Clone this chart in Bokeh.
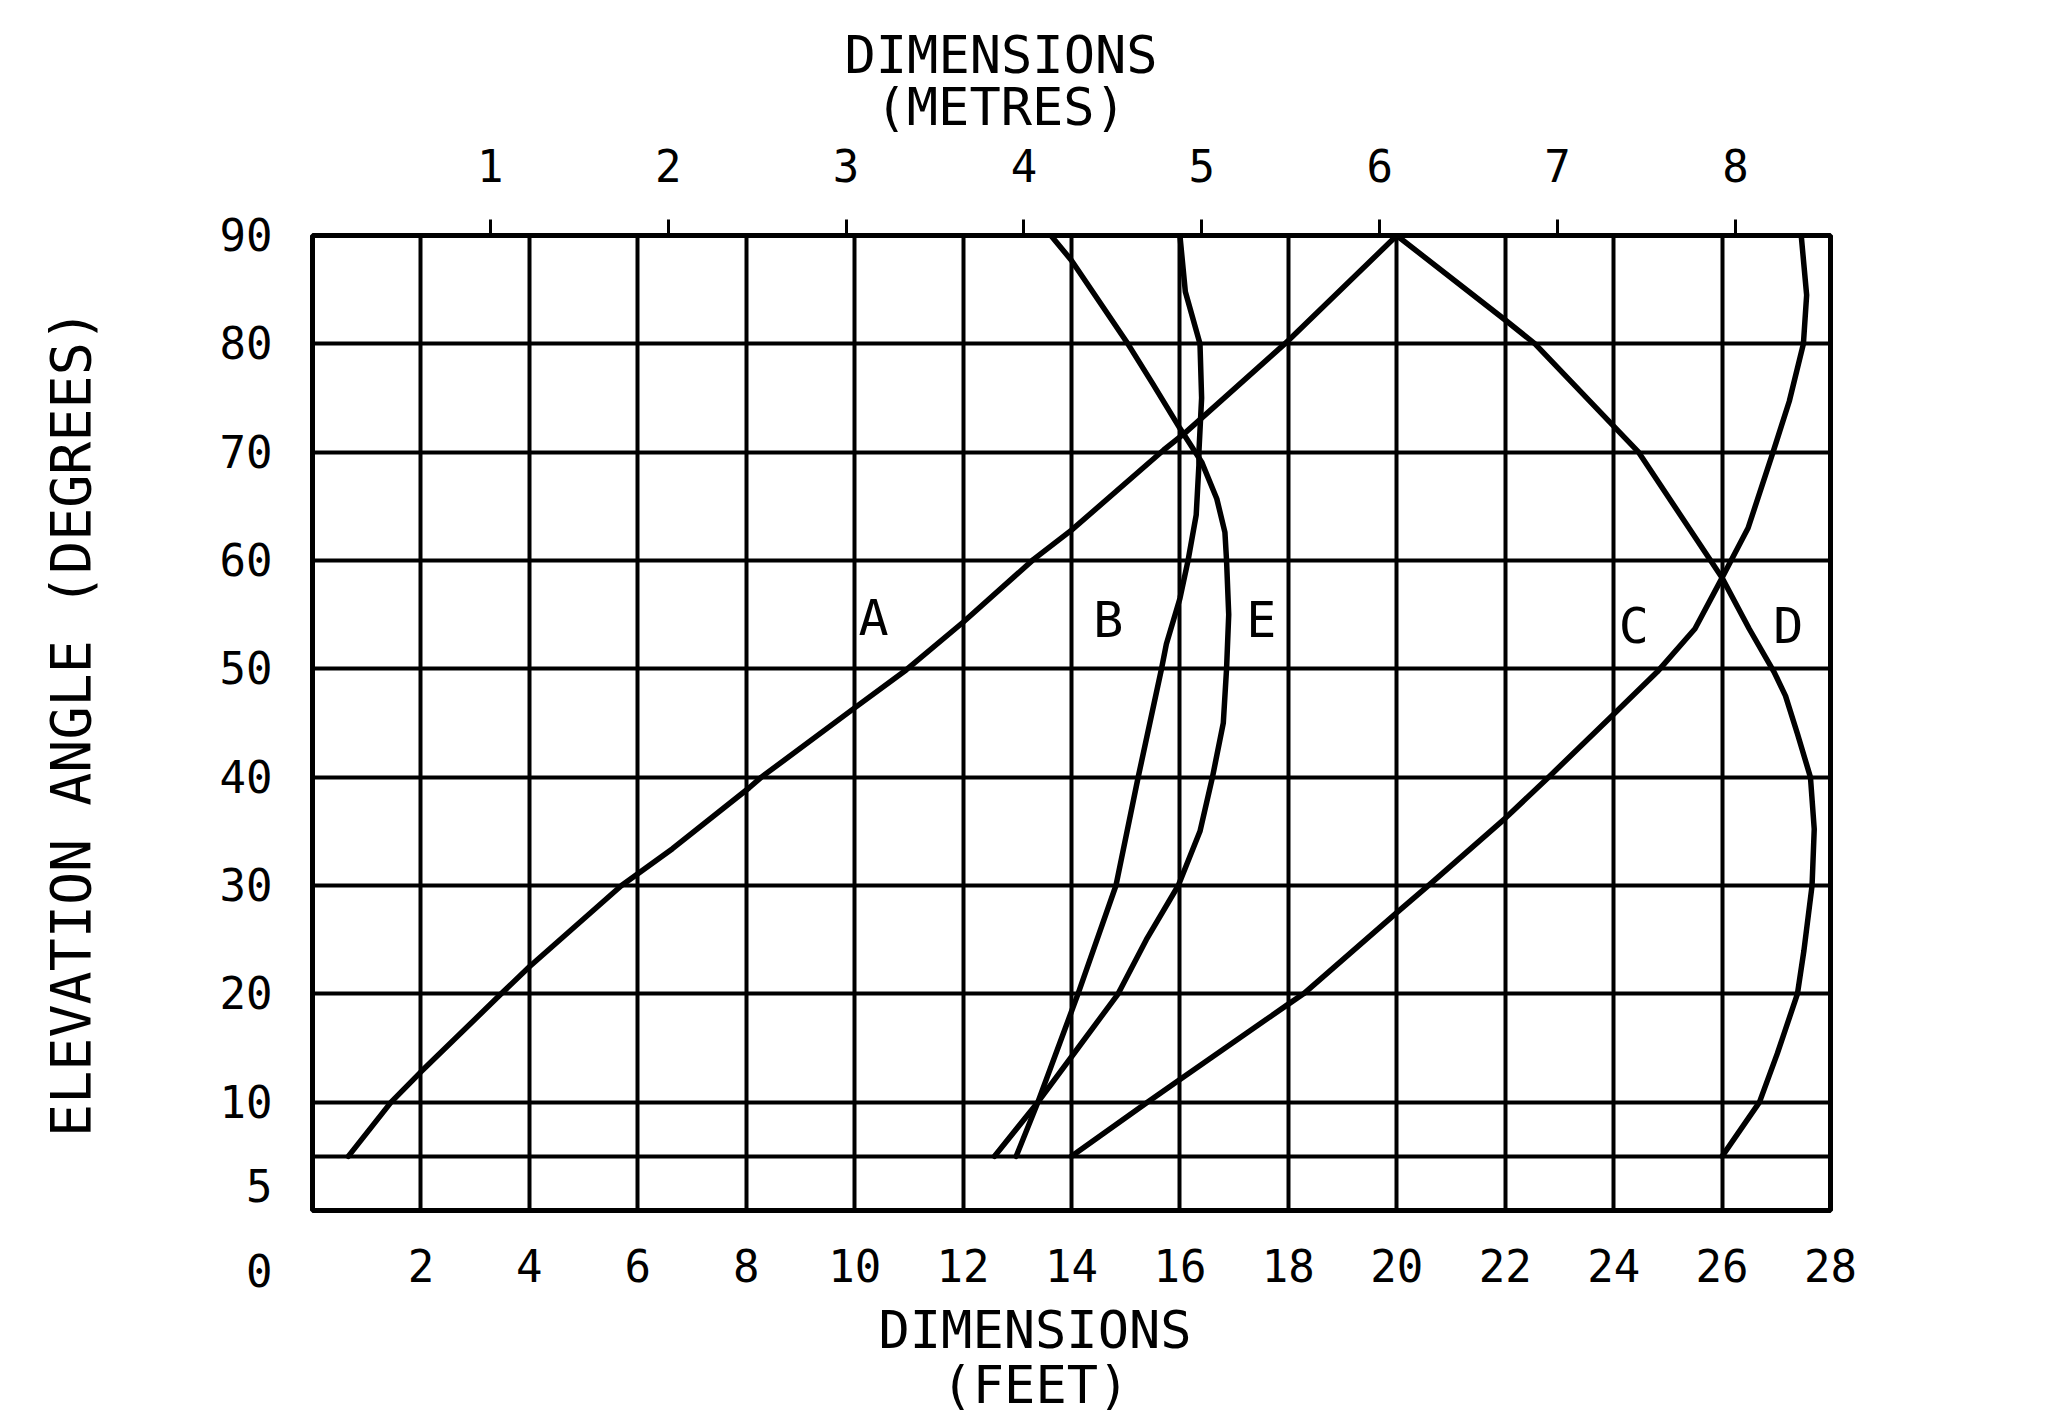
import math
from bokeh.plotting import figure
from bokeh.models import Range1d, LinearAxis, FixedTicker, ColumnDataSource, Title
from bokeh.core.properties import value
from bokeh.embed import file_html
from bokeh.resources import INLINE

FONT = "DejaVu Sans Mono"

# ---- data (feet, elevation degrees) ----
a_ft = [0.66, 1.45, 2.0, 3.48, 4.0, 5.7, 6.64, 8.05, 8.28, 10.0, 10.95, 12.0, 13.3, 14.0, 15.7, 16.1, 18.0, 20.0]
a_deg = [5, 10, 12.8, 20, 22.5, 30, 33.4, 39.0, 40, 46.4, 49.9, 54.3, 60.1, 62.8, 70.2, 71.8, 80.3, 90]

b_ft = [12.98, 13.38, 13.75, 14.12, 14.82, 15.23, 15.66, 15.75, 16.0, 16.15, 16.3, 16.35, 16.35, 16.4, 16.37, 16.1, 16.0]
b_deg = [5, 10, 15, 20, 30, 40, 50, 52.3, 56.5, 60, 64.2, 68.8, 70, 75, 80, 84.8, 90]

e_ft = [12.58, 13.38, 14.12, 14.86, 15.38, 15.97, 16.37, 16.6, 16.8, 16.86, 16.9, 16.86, 16.83, 16.68, 16.4, 16.0, 15.5, 15.04, 14.0, 13.62]
e_deg = [5, 10, 15, 20, 25, 30, 35, 40, 45, 50, 55, 60, 62.6, 65.7, 69.1, 72.2, 76.3, 80, 87.7, 90]

c_ft = [14.0, 15.4, 16.0, 18.0, 18.28, 20.0, 20.63, 22.0, 22.8, 24.0, 24.8, 25.5, 26.0, 25.23, 24.46, 24.0, 22.55, 22.0, 20.0]
c_deg = [5, 10, 12.1, 19.05, 20, 27.5, 30.2, 36.2, 40, 45.8, 49.7, 53.7, 58.4, 64.2, 70, 72.4, 80, 82.2, 90]

d_ft = [26.0, 26.69, 27.02, 27.39, 27.51, 27.66, 27.7, 27.63, 27.39, 27.17, 26.96, 26.5, 26.0, 26.48, 26.94, 27.24, 27.5, 27.56, 27.46]
d_deg = [5, 10, 14.5, 20, 24, 30, 35.2, 40, 44, 47.5, 49.7, 53.7, 58.4, 63, 70, 74.7, 80, 84.5, 90]

curve_names = ["A", "B", "C", "D", "E"]
curve_label_ft = [10.35, 14.68, 24.37, 27.22, 17.5]
curve_label_deg = [54.7, 54.5, 54.0, 54.0, 54.5]

feet_ticks = [2, 4, 6, 8, 10, 12, 14, 16, 18, 20, 22, 24, 26, 28]
feet_grid = [2, 4, 6, 8, 10, 12, 14, 16, 18, 20, 22, 24, 26]
metre_ticks = [1, 2, 3, 4, 5, 6, 7, 8]
deg_ticks = [0, 5, 10, 20, 30, 40, 50, 60, 70, 80, 90]
deg_grid = [5, 10, 20, 30, 40, 50, 60, 70, 80]
# the plotter wrote "5" a little below its line and "0" down in the feet-label row
deg_label_text = {0: "\n\n0", 5: "\n5"}
FT_MAX = 28
DEG_MAX = 90
FT_PER_M = 3.28084

p = figure(width=2048, height=1420,
           x_range=Range1d(0, FT_MAX), y_range=Range1d(0, DEG_MAX),
           output_backend="svg", toolbar_location=None,
           min_border_left=312, min_border_right=218,
           min_border_top=235, min_border_bottom=210)
p.title_location = None
p.background_fill_color = "white"
p.border_fill_color = "white"
p.outline_line_color = "black"
p.outline_line_width = 5
p.outline_line_alpha = 1

p.xgrid.ticker = FixedTicker(ticks=feet_grid)
p.ygrid.ticker = FixedTicker(ticks=deg_grid)
for g in (p.xgrid, p.ygrid):
    g.grid_line_color = "black"
    g.grid_line_width = 4
    g.grid_line_alpha = 1

ax = p.xaxis[0]
ax.ticker = FixedTicker(ticks=feet_ticks)
ay = p.yaxis[0]
ay.ticker = FixedTicker(ticks=deg_ticks)
ay.major_label_overrides = deg_label_text
for a in (ax, ay):
    a.axis_line_color = None
    a.major_tick_line_color = None
    a.minor_tick_line_color = None
    a.major_label_text_font = FONT
    a.major_label_text_font_size = "44px"
    a.major_label_text_color = "black"
ax.major_label_standoff = 32
ay.major_label_standoff = 34
ay.axis_label = "ELEVATION ANGLE (DEGREES)"
ay.axis_label_standoff = 114
ay.axis_label_text_font = FONT
ay.axis_label_text_font_size = "55px"
ay.axis_label_text_font_style = "normal"
ay.axis_label_text_color = "black"

p.extra_x_ranges = {"m": Range1d(0, FT_MAX / FT_PER_M)}
top = LinearAxis(x_range_name="m", ticker=FixedTicker(ticks=metre_ticks))
top.axis_line_color = None
top.minor_tick_line_color = None
top.major_tick_in = 0
top.major_tick_out = 16
top.major_tick_line_width = 3
top.major_tick_line_color = "black"
top.major_label_text_font = FONT
top.major_label_text_font_size = "44px"
top.major_label_text_color = "black"
top.major_label_standoff = 38
p.add_layout(top, "above")

TITLE_PX = 52
def title(text, side, center_ft, standoff):
    width = len(text) * 0.602 * TITLE_PX
    off = int(round(center_ft / FT_MAX * 1518 - width / 2))
    t = Title(text=text, align="left", offset=off, standoff=standoff,
              text_font=FONT, text_font_size=f"{TITLE_PX}px", text_font_style="normal",
              text_color="black")
    p.add_layout(t, side)

title("(METRES)", "above", 12.70, 18)
title("DIMENSIONS", "above", 12.70, -38)
title("DIMENSIONS", "below", 13.33, 26)
title("(FEET)", "below", 13.33, -40)

for xs, ys in ((a_ft, a_deg), (b_ft, b_deg), (c_ft, c_deg), (d_ft, d_deg), (e_ft, e_deg)):
    p.line(xs, ys, line_color="black", line_width=5.5, line_join="round", line_cap="round")

src = ColumnDataSource(dict(x=curve_label_ft, y=curve_label_deg, t=curve_names))
p.text(x="x", y="y", text="t", source=src, text_font=value(FONT), text_font_size="50px",
       text_align="center", text_baseline="middle", text_color="black")

open("out.html", "w").write(file_html(p, INLINE))
